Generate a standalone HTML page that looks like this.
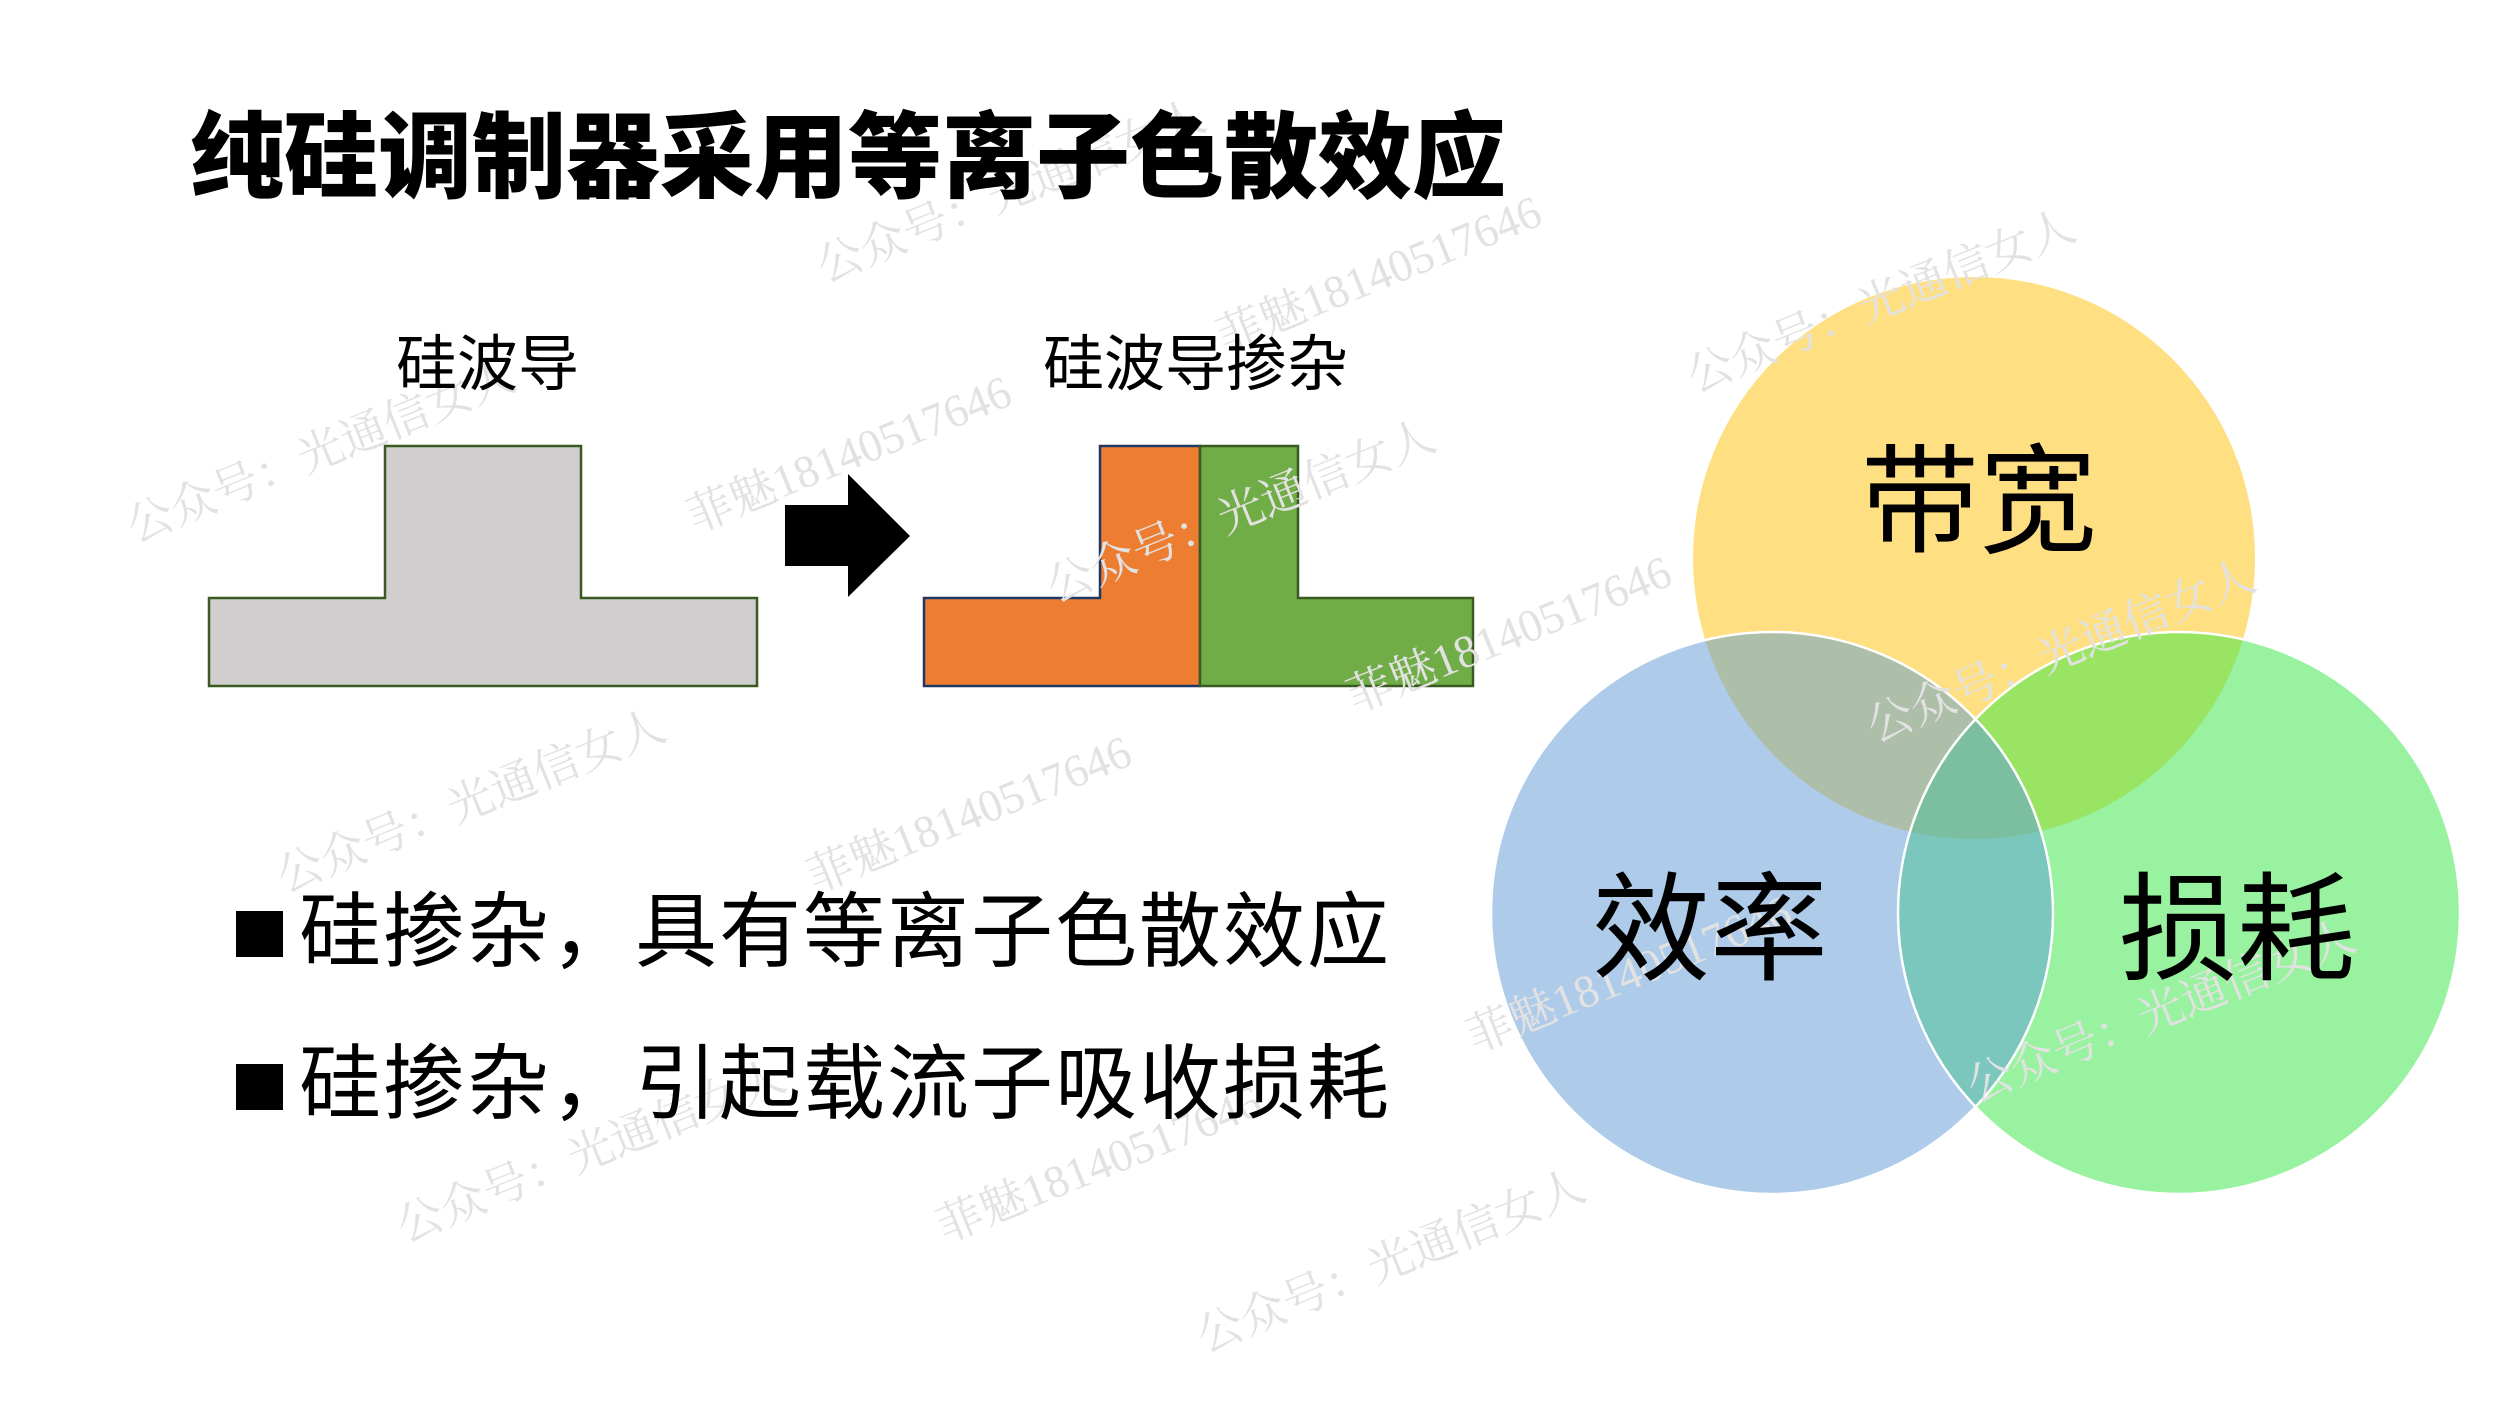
<!DOCTYPE html>
<html><head><meta charset="utf-8">
<style>
html,body{margin:0;padding:0;background:#fff;}
body{width:2500px;height:1406px;position:relative;overflow:hidden;font-family:"Liberation Sans","Noto Sans CJK SC",sans-serif;}
.t{position:absolute;white-space:nowrap;line-height:1;color:#000;}
.sq{position:absolute;width:47px;height:46px;background:#000;}
.wm{position:absolute;white-space:nowrap;color:#e2e2e2;font-family:"Liberation Serif","Noto Serif CJK SC",serif;font-size:46px;transform:rotate(-22deg);transform-origin:left bottom;}
</style></head><body>
<svg width="2500" height="1406" style="position:absolute;left:0;top:0">
<defs>
<clipPath id="cy"><circle cx="1974" cy="558" r="281"/></clipPath>
<clipPath id="cb"><circle cx="1772" cy="913" r="281"/></clipPath>
<clipPath id="cg"><circle cx="2179" cy="913" r="281"/></clipPath>
</defs>
<path d="M209 598 H385 V446 H581 V598 H757 V686 H209 Z" fill="#d0cece" stroke="#3b5a23" stroke-width="2.5"/>
<path d="M785 505 H848 V474 L910 536 L848 597 V566 H785 Z" fill="#000"/>
<path d="M924 598 H1100 V446 H1200 V686 H924 Z" fill="#ed7d31" stroke="#1f3864" stroke-width="2.5"/>
<path d="M1200 446 H1298 V598 H1473 V686 H1200 Z" fill="#70ad47" stroke="#3b5a23" stroke-width="2.5"/>
<circle cx="1974" cy="558" r="281" fill="#fedf82"/>
<circle cx="1772" cy="913" r="281" fill="#aecbe9"/>
<circle cx="2179" cy="913" r="281" fill="#98f29f"/>
<g clip-path="url(#cy)"><circle cx="1772" cy="913" r="281" fill="#adbea9"/><circle cx="2179" cy="913" r="281" fill="#99e462"/></g>
<g clip-path="url(#cb)"><circle cx="2179" cy="913" r="281" fill="#7bc6bd"/></g>
<g clip-path="url(#cy)"><g clip-path="url(#cb)"><circle cx="2179" cy="913" r="281" fill="#7cbfa0"/></g></g>
<circle cx="1772" cy="913" r="281" fill="none" stroke="#fff" stroke-width="2.5"/>
<circle cx="2179" cy="913" r="281" fill="none" stroke="#fff" stroke-width="2.5"/>
</svg>
<div class="wm" style="left:830px;top:230px">公众号：光通信女人</div>
<div class="wm" style="left:1230px;top:300px">菲魅18140517646</div>
<div class="wm" style="left:140px;top:490px">公众号：光通信女人</div>
<div class="wm" style="left:700px;top:480px">菲魅18140517646</div>
<div class="wm" style="left:1060px;top:550px">公众号：光通信女人</div>
<div class="wm" style="left:1700px;top:340px">公众号：光通信女人</div>
<div class="wm" style="left:1360px;top:660px">菲魅18140517646</div>
<div class="wm" style="left:1880px;top:690px">公众号：光通信女人</div>
<div class="wm" style="left:290px;top:840px">公众号：光通信女人</div>
<div class="wm" style="left:820px;top:840px">菲魅18140517646</div>
<div class="wm" style="left:1480px;top:1000px">菲魅18140517646</div>
<div class="wm" style="left:1980px;top:1050px">公众号：光通信女人</div>
<div class="wm" style="left:410px;top:1190px">公众号：光通信女人</div>
<div class="wm" style="left:950px;top:1190px">菲魅18140517646</div>
<div class="wm" style="left:1210px;top:1300px">公众号：光通信女人</div>

<div class="t" style="left:190px;top:111px;font-size:94px;font-weight:900;">纯硅调制器采用等离子色散效应</div>
<div class="t" style="left:396px;top:334px;font-size:61px;">硅波导</div>
<div class="t" style="left:1043px;top:334px;font-size:61px;">硅波导掺杂</div>
<div class="sq" style="left:236px;top:911px"></div>
<div class="sq" style="left:236px;top:1064px"></div>
<div class="t" style="left:299px;top:892px;font-size:82px;letter-spacing:2px;">硅掺杂，具有等离子色散效应</div>
<div class="t" style="left:299px;top:1044px;font-size:82px;letter-spacing:2px;">硅掺杂，引起载流子吸收损耗</div>
<div class="t" style="left:1861px;top:444px;font-size:118px;">带宽</div>
<div class="t" style="left:1592px;top:872px;font-size:118px;">效率</div>
<div class="t" style="left:2119px;top:872px;font-size:118px;">损耗</div>
</body></html>
